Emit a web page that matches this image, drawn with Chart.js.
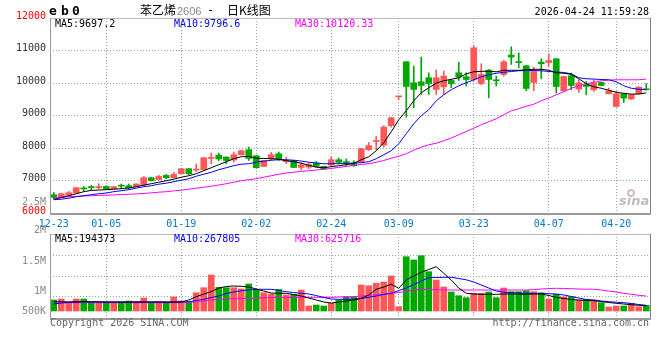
<!DOCTYPE html>
<html>
<head>
<meta charset="utf-8">
<script src="https://cdn.jsdelivr.net/npm/chart.js@4.4.0/dist/chart.umd.min.js"></script>
<style>
  html, body { margin: 0; padding: 0; background: #fff; }
  #wrap { position: relative; width: 660px; height: 360px; }
  canvas { position: absolute; left: 0; }
</style>
</head>
<body>
<div id="wrap">
  <canvas id="kline" width="660" height="233" style="top:0"></canvas>
  <canvas id="vol" width="660" height="127" style="top:233px"></canvas>
</div>
<script>
// trading days shown on the chart
const dates = ['12-23','12-24','12-25','12-26','12-29','12-30','12-31','01-05','01-06','01-07',
  '01-08','01-09','01-12','01-13','01-14','01-15','01-16','01-19','01-20','01-21',
  '01-22','01-23','01-26','01-27','01-28','01-29','01-30','02-02','02-03','02-04',
  '02-05','02-06','02-09','02-10','02-11','02-12','02-13','02-24','02-25','02-26',
  '02-27','03-02','03-03','03-04','03-05','03-06','03-09','03-10','03-11','03-12',
  '03-13','03-16','03-17','03-18','03-19','03-20','03-23','03-24','03-25','03-26',
  '03-27','03-30','03-31','04-01','04-02','04-03','04-07','04-08','04-09','04-10',
  '04-13','04-14','04-15','04-16','04-17','04-20','04-21','04-22','04-23','04-24'];
const tickDates = ['12-23','01-05','01-19','02-02','02-24','03-09','03-23','04-07','04-20'];

// daily OHLC
const open = [6563,6480,6541,6615,6755,6795,6780,6818,6747,6835,
  6840,6809,6870,7086,7033,7156,7086,7209,7362,7320,
  7332,7680,7783,7722,7630,7793,7947,7762,7433,7670,
  7824,7578,7617,7402,7410,7537,7433,7476,7639,7565,
  7537,7568,7947,8200,8091,8685,9575,10653,10007,10038,
  10161,9801,9884,10078,10314,10191,10108,9985,10397,10078,
  10262,10859,10637,10530,10016,10643,10631,10745,9761,10222,
  9813,9945,9792,10016,9669,9278,9669,9506,9669,9822];
const high = [6633,6610,6664,6790,6818,6849,6901,6840,6815,6892,
  6892,6900,7125,7095,7156,7187,7248,7375,7370,7507,
  7710,7845,7845,7730,7876,7930,8030,7770,7625,7863,
  7876,7722,7625,7556,7537,7586,7440,7722,7691,7661,
  7608,7990,8171,8355,8685,8940,9590,10660,10520,10797,
  10314,10397,10366,10108,10643,10314,11145,10591,10416,10213,
  10693,11114,10929,10540,10489,10745,10899,10750,10210,10305,
  10099,10047,10099,10030,9844,9740,9680,9650,9885,9976];
const low = [6430,6470,6500,6605,6664,6707,6747,6725,6740,6747,
  6738,6800,6840,6985,7015,7045,7075,7200,7178,7279,
  7320,7516,7608,7516,7568,7780,7617,7383,7425,7639,
  7617,7516,7395,7332,7362,7414,7345,7433,7516,7464,
  7433,7560,7925,7947,8030,8644,9484,8950,9238,9647,
  9647,9647,9647,9853,10078,9905,10059,9945,9546,9905,
  10213,10570,10468,9761,9761,10130,10508,9690,9750,9792,
  9708,9638,9740,9910,9660,9259,9401,9495,9660,9780];
const close = [6480,6594,6625,6778,6740,6780,6792,6738,6809,6825,
  6778,6892,7086,6993,7125,7086,7187,7362,7209,7332,
  7700,7691,7661,7617,7793,7916,7679,7393,7617,7793,
  7661,7617,7402,7485,7485,7433,7353,7639,7556,7550,
  7454,7977,8070,8214,8644,8931,9585,9893,9801,9924,
  9985,10161,10213,9976,10182,10108,11083,10262,10108,10068,
  10653,10797,10628,9831,10354,10591,10693,9893,10200,9924,
  10000,9893,10000,9924,9761,9669,9536,9638,9874,9792];

// moving averages as drawn on the price panel
const ma5 = [6424,6470,6532,6593,6655,6695,6707,6717,6732,6747,
  6769,6809,6855,6901,6947,6993,7039,7101,7147,7209,
  7301,7393,7485,7578,7670,7731,7741,7685,7679,7670,
  7654,7608,7578,7531,7470,7408,7393,7424,7455,7485,
  7531,7639,7731,7916,8162,8500,8869,9146,9453,9699,
  9853,9997,10068,10114,10161,10283,10345,10360,10360,10345,
  10391,10391,10391,10407,10422,10422,10391,10314,10299,10268,
  10130,9976,9884,9838,9776,9715,9684,9659,9659,9697.2];
const ma10 = [6409,6424,6455,6501,6532,6563,6593,6615,6655,6686,
  6717,6763,6809,6840,6886,6917,6963,7009,7055,7132,
  7193,7255,7332,7393,7455,7501,7516,7562,7593,7623,
  7639,7639,7623,7599,7562,7537,7516,7516,7516,7525,
  7537,7547,7578,7670,7793,7916,8131,8439,8746,8992,
  9177,9453,9638,9792,9915,10007,10099,10191,10253,10299,
  10330,10354,10376,10385,10385,10376,10354,10339,10323,10283,
  10161,10130,10121,10108,10099,10037,9915,9838,9807,9796.6];
const ma30 = [6480,6492,6501,6511,6523,6532,6541,6547,6557,6569,
  6578,6587,6603,6618,6640,6655,6680,6701,6732,6763,
  6793,6824,6861,6901,6947,6993,7024,7055,7101,7147,
  7193,7230,7255,7279,7301,7322,7347,7371,7402,7433,
  7464,7494,7516,7562,7617,7685,7747,7824,7931,8023,
  8100,8146,8223,8306,8408,8509,8608,8715,8807,8900,
  9023,9146,9207,9284,9346,9453,9536,9638,9730,9838,
  9915,9976,10022,10068,10090,10099,10099,10099,10099,10120.33];

// volume and its moving averages
const volume = [400000,425000,342500,425000,425000,342500,342500,342500,342500,350000,
  375000,357500,450000,332500,332500,342500,475000,375000,342500,582500,
  707500,1025000,717500,707500,707500,675000,800000,650000,582500,550000,
  667500,525000,542500,650000,250000,275000,250000,317500,400000,482500,
  482500,775000,757500,817500,850000,1000000,232500,1482500,1400000,1507500,
  1107500,900000,725000,600000,507500,457500,567500,567500,600000,457500,
  700000,607500,607500,632500,607500,582500,425000,542500,475000,482500,
  400000,417500,400000,332500,225000,250000,250000,317500,232500,267500];
const volMa5 = [355000,355000,352500,355000,357500,357500,355000,350000,350000,347500,
  345000,350000,350000,350000,352500,350000,350000,352500,400000,482500,
  550000,607500,700000,737500,750000,742500,725000,675000,625000,575000,
  567500,567500,537500,500000,450000,400000,350000,325000,350000,375000,
  400000,442500,525000,667500,725000,792500,692500,900000,1000000,1092500,
  1162500,1232500,1067500,900000,700000,567500,550000,542500,542500,542500,
  550000,550000,550000,542500,550000,550000,512500,467500,437500,412500,
  400000,387500,382500,362500,337500,317500,300000,282500,267500,257500];
const volMa10 = [300000,325000,342500,350000,350000,350000,350000,350000,350000,350000,
  350000,350000,350000,350000,350000,350000,350000,350000,357500,387500,
  417500,462500,500000,562500,600000,632500,650000,667500,667500,667500,
  637500,607500,587500,567500,550000,512500,462500,425000,417500,417500,
  417500,437500,467500,500000,537500,567500,637500,700000,787500,875000,
  957500,962500,967500,967500,937500,905000,850000,775000,700000,625000,
  592500,582500,575000,567500,567500,562500,557500,550000,525000,487500,
  450000,412500,400000,375000,357500,345000,332500,312500,287500,267500];
const volMa30 = [317500,325000,332500,332500,332500,332500,332500,332500,332500,332500,
  332500,332500,332500,332500,332500,332500,332500,332500,342500,357500,
  380000,400000,412500,430000,432500,437500,440000,442500,455000,462500,
  467500,467500,467500,467500,467500,467500,467500,467500,475000,480000,
  482500,500000,517500,532500,550000,567500,587500,612500,650000,667500,
  662500,657500,650000,650000,650000,650000,650000,650000,650000,650000,
  650000,650000,650000,650000,662500,675000,687500,692500,687500,682500,
  675000,670000,667500,650000,625000,600000,567500,542500,517500,500000];
// the MA readouts printed on the volume panel
const volMaText = ['MA5:194373', 'MA10:267805', 'MA30:625716'];

const volTicks = [500000, 1000000, 1500000];
const volTickLabels = ['500K', '1M', '1.5M'];

const UP = '#ff5757';
const DOWN = '#00a800';
const GRID = '#a0a0a0';
const MONO = '"DejaVu Sans Mono", monospace';
const colorAt = i => close[i] >= open[i] ? UP : DOWN;
const candleColors = close.map((c, i) => colorAt(i));

// vertical grid only on the labelled dates (none on the left edge)
const xGridColor = ctx => {
  const i = ctx.index;
  return (i > 0 && tickDates.includes(dates[i])) ? GRID : 'rgba(0,0,0,0)';
};

function maLine(data, color) {
  return { type: 'line', data: data, borderColor: color, borderWidth: 1,
    pointRadius: 0, tension: 0, order: 0 };
}

function frame(ctx, a) {
  ctx.save();
  ctx.fillStyle = '#b8b8b8';
  ctx.fillRect(a.left, a.top, a.right - a.left, 1);
  ctx.fillStyle = '#999';
  ctx.fillRect(a.left, a.top, 1, a.bottom - a.top);
  ctx.fillStyle = '#808080';
  ctx.fillRect(a.right, a.top, 1, a.bottom - a.top + 1);
  ctx.fillStyle = '#9a9a9a';
  ctx.fillRect(a.left, a.bottom, a.right - a.left + 1, 2);
  ctx.restore();
}

function text(ctx, s, x, y, color, font, align) {
  ctx.font = font;
  ctx.fillStyle = color;
  ctx.textAlign = align || 'left';
  ctx.textBaseline = 'alphabetic';
  ctx.fillText(s, x, y);
  return x + ctx.measureText(s).width;
}

const klineDecor = {
  id: 'klineDecor',
  afterDraw(chart) {
    const ctx = chart.ctx;
    const a = chart.chartArea;
    frame(ctx, a);
    ctx.save();
    // header
    text(ctx, 'e', 49, 15, '#000', 'bold 13px ' + MONO);
    text(ctx, 'b', 61, 15, '#000', 'bold 13px ' + MONO);
    text(ctx, '0', 72, 15, '#000', 'bold 13px ' + MONO);
    let x = text(ctx, '苯乙烯', 140, 15, '#000', '12px "Noto Sans CJK SC"');
    text(ctx, '2606', x + 1, 15, '#888', '11px "Liberation Sans"');
    text(ctx, '-', 207, 14, '#000', '12px ' + MONO);
    text(ctx, '日K线图', 227, 15, '#000', '12px "Noto Sans CJK SC"');
    text(ctx, '2026-04-24 11:59:28', 649, 15, '#000', '10px ' + MONO, 'right');
    // MA values
    text(ctx, 'MA5:' + ma5[ma5.length - 1].toFixed(1), 55, 27, '#000', '10px ' + MONO);
    text(ctx, 'MA10:' + ma10[ma10.length - 1].toFixed(1), 174, 27, '#0000ff', '10px ' + MONO);
    text(ctx, 'MA30:' + ma30[ma30.length - 1].toFixed(2), 295, 27, '#ff00ff', '10px ' + MONO);
    // volume axis labels that sit above the volume panel
    text(ctx, '2.5M', 46, 205, '#8a8a8a', '10px ' + MONO, 'right');
    text(ctx, '2M', 46, 233, '#8a8a8a', '10px ' + MONO, 'right');
    // watermark
    ctx.strokeStyle = '#d9a9a9';
    ctx.lineWidth = 1.5;
    ctx.beginPath();
    ctx.arc(631, 193, 3, 0, Math.PI * 2);
    ctx.stroke();
    text(ctx, 'sina', 619, 205, '#bdbdbd', 'italic bold 13px "DejaVu Sans"');
    ctx.restore();
  }
};

const volDecor = {
  id: 'volDecor',
  afterDraw(chart) {
    const ctx = chart.ctx;
    const a = chart.chartArea;
    const y = chart.scales.y;
    frame(ctx, a);
    ctx.save();
    text(ctx, volMaText[0], 55, 9, '#000', '10px ' + MONO);
    text(ctx, volMaText[1], 174, 9, '#0000ff', '10px ' + MONO);
    text(ctx, volMaText[2], 295, 9, '#ff00ff', '10px ' + MONO);
    // tick labels sit a little under their grid lines, as on the original
    const shift = [18, 18, 8];
    volTicks.forEach((v, i) => {
      text(ctx, volTickLabels[i], 46, y.getPixelForValue(v) + shift[i], '#8a8a8a', '10px ' + MONO, 'right');
    });
    text(ctx, 'Copyright 2026 SINA.COM', 50, 93, '#666', '10px ' + MONO);
    text(ctx, 'http://finance.sina.com.cn', 649, 93, '#666', '10px ' + MONO, 'right');
    ctx.restore();
  }
};

new Chart(document.getElementById('kline'), {
  type: 'bar',
  data: {
    labels: dates,
    datasets: [
      maLine(ma5, '#000000'),
      maLine(ma10, '#0000ff'),
      maLine(ma30, '#ff00ff'),
      { data: open.map((o, i) => [o, close[i]]), backgroundColor: candleColors,
        barThickness: 6, minBarLength: 1, grouped: false, order: 1 },
      { data: low.map((l, i) => [l, high[i]]), backgroundColor: candleColors,
        barThickness: 1, grouped: false, order: 2 }
    ]
  },
  options: {
    responsive: false,
    animation: false,
    devicePixelRatio: 1,
    layout: { padding: { top: 18, right: 10, left: 0, bottom: 0 } },
    plugins: { legend: { display: false }, tooltip: { enabled: false } },
    scales: {
      x: {
        offset: true,
        grid: { offset: false, color: xGridColor, drawTicks: false },
        border: { display: false, dash: [1, 2] },
        ticks: {
          autoSkip: false, maxRotation: 0, minRotation: 0, padding: 5,
          color: '#0a78c8', font: { family: 'DejaVu Sans Mono', size: 10 },
          callback: (v, i) => tickDates.includes(dates[i]) ? dates[i] : ''
        },
        afterFit: s => { s.height = 20; }
      },
      y: {
        min: 6000, max: 12000,
        grid: { color: c => (c.tick.value > 6000 && c.tick.value < 12000) ? GRID : 'rgba(0,0,0,0)', drawTicks: false },
        border: { display: false, dash: [1, 2] },
        ticks: {
          stepSize: 1000, padding: 4, labelOffset: -2,
          callback: v => String(v),
          color: c => (c.tick.value === 6000 || c.tick.value === 12000) ? '#ff0000' : '#333',
          font: { family: 'DejaVu Sans Mono', size: 10 }
        },
        afterFit: s => { s.width = 50; }
      }
    }
  },
  plugins: [klineDecor]
});

new Chart(document.getElementById('vol'), {
  type: 'bar',
  data: {
    labels: dates,
    datasets: [
      maLine(volMa5, '#000000'),
      maLine(volMa10, '#0000ff'),
      maLine(volMa30, '#ff00ff'),
      { data: volume, base: 125000, backgroundColor: candleColors,
        barThickness: 6, grouped: false, order: 1 }
    ]
  },
  options: {
    responsive: false,
    animation: false,
    devicePixelRatio: 1,
    layout: { padding: { top: 1, right: 10, left: 0, bottom: 0 } },
    plugins: { legend: { display: false }, tooltip: { enabled: false } },
    scales: {
      x: {
        offset: true,
        grid: { offset: false, color: xGridColor, drawTicks: false },
        border: { display: false, dash: [1, 2] },
        ticks: { display: false, autoSkip: false },
        afterFit: s => { s.height = 42; }
      },
      y: {
        min: -50000, max: 2050000,
        afterBuildTicks: s => { s.ticks = volTicks.map(v => ({ value: v })); },
        grid: { color: GRID, drawTicks: false },
        border: { display: false, dash: [1, 2] },
        ticks: { display: false },
        afterFit: s => { s.width = 50; }
      }
    }
  },
  plugins: [volDecor]
});
</script>
</body>
</html>
